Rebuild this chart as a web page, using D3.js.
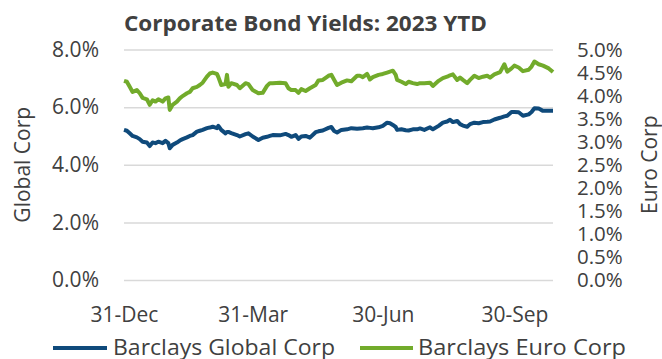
<!DOCTYPE html>
<html>
<head>
<meta charset="utf-8">
<script src="https://cdn.jsdelivr.net/npm/d3@7"></script>
<style>
  body { margin: 0; background: #fff; }
  text { font-family: "Open Sans", "Noto Sans", sans-serif; fill: #404040; }
</style>
</head>
<body>
<svg id="chart"></svg>
<script>
const width = 662;
const height = 359;

// days since 31-Dec-2022
const dayOffsets = [0,2,4,6,9,11,13,16,18,20,22,24,27,29,31,32,34,37,39,41,44,46,48,51,53,55,58,60,62,65,66,68,71,72,73,75,79,81,85,87,90,94,97,100,102,104,109,113,115,117,120,122,124,127,130,134,136,139,143,145,147,149,152,156,159,163,165,167,170,172,174,178,181,184,186,188,190,191,194,197,199,202,205,207,210,214,216,220,223,226,228,230,233,235,237,240,242,245,248,251,254,256,259,263,266,268,271,273,276,279,283,285,287,290,293,297,300];

const globalCorp = [5.21,5.18,5.09,5.00,4.95,4.89,4.80,4.77,4.65,4.77,4.75,4.80,4.75,4.83,4.75,4.57,4.69,4.77,4.84,4.89,4.95,5.00,5.03,5.15,5.18,5.21,5.27,5.29,5.32,5.27,5.35,5.21,5.09,5.14,5.14,5.10,5.03,4.98,5.06,5.09,4.98,4.86,4.94,4.97,5.00,5.03,5.02,5.07,5.03,4.97,5.03,4.90,4.98,5.00,4.94,5.13,5.16,5.19,5.28,5.31,5.17,5.12,5.21,5.23,5.27,5.25,5.26,5.27,5.29,5.28,5.27,5.30,5.35,5.46,5.44,5.38,5.31,5.21,5.23,5.20,5.19,5.23,5.23,5.26,5.21,5.30,5.23,5.35,5.46,5.50,5.56,5.48,5.52,5.41,5.36,5.32,5.41,5.46,5.44,5.48,5.49,5.50,5.57,5.63,5.68,5.70,5.83,5.83,5.82,5.70,5.75,5.83,5.96,5.95,5.87,5.87,5.87];

const euroCorp = [4.32,4.30,4.19,4.08,4.12,4.05,3.95,3.92,3.80,3.90,3.87,3.92,3.87,3.94,3.96,3.69,3.80,3.87,3.94,3.99,4.05,4.08,4.16,4.19,4.23,4.28,4.41,4.48,4.50,4.47,4.40,4.23,4.25,4.45,4.19,4.27,4.23,4.16,4.27,4.25,4.12,4.05,4.06,4.21,4.27,4.27,4.28,4.27,4.16,4.12,4.12,4.06,4.14,4.10,4.16,4.23,4.33,4.34,4.43,4.45,4.34,4.23,4.28,4.33,4.31,4.43,4.43,4.40,4.47,4.35,4.40,4.45,4.47,4.50,4.52,4.54,4.45,4.34,4.30,4.25,4.30,4.27,4.25,4.27,4.27,4.28,4.21,4.32,4.38,4.41,4.44,4.46,4.34,4.39,4.34,4.27,4.34,4.43,4.38,4.41,4.43,4.39,4.46,4.51,4.68,4.52,4.59,4.65,4.61,4.53,4.56,4.63,4.74,4.68,4.65,4.59,4.51];

const leftTicks = [0, 2, 4, 6, 8];
const rightTicks = [0, 0.5, 1, 1.5, 2, 2.5, 3, 3.5, 4, 4.5, 5];
const xTickDates = ["2022-12-31", "2023-03-31", "2023-06-30", "2023-09-30"];
const seriesNames = ["Barclays Global Corp", "Barclays Euro Corp"];
const colors = ["#0f4a7b", "#72ab2b"];

const start = new Date(2022, 11, 31);
const dates = dayOffsets.map(d => d3.timeDay.offset(start, d));

const plot = { left: 124, right: 553, top: 49.5, bottom: 280 };

const svg = d3.select("#chart")
  .attr("width", width)
  .attr("height", height);

const xScale = d3.scaleTime()
  .domain([start, d3.timeDay.offset(start, 300)])
  .range([plot.left, plot.right]);

const yLeft = d3.scaleLinear().domain([0, 8]).range([plot.bottom, plot.top]);
const yRight = d3.scaleLinear().domain([0, 5]).range([plot.bottom, plot.top]);

// left axis + gridlines
const leftAxis = svg.append("g")
  .attr("transform", `translate(${plot.left},0)`)
  .call(d3.axisLeft(yLeft)
    .tickValues(leftTicks)
    .tickSize(-(plot.right - plot.left))
    .tickPadding(25)
    .tickFormat(d => d.toFixed(1) + "%"));
leftAxis.select(".domain").remove();
leftAxis.selectAll("line").attr("stroke", "#d9d9d9").attr("stroke-width", 1.5);
leftAxis.selectAll("text").style("font-size", "21px").attr("fill", "#404040");

// right axis
const rightAxis = svg.append("g")
  .attr("transform", `translate(${plot.right},0)`)
  .call(d3.axisRight(yRight)
    .tickValues(rightTicks)
    .tickSize(0)
    .tickPadding(24)
    .tickFormat(d => d.toFixed(1) + "%"));
rightAxis.select(".domain").remove();
rightAxis.selectAll("text").style("font-size", "20.5px").attr("fill", "#404040");

// x axis
const xAxis = svg.append("g")
  .attr("transform", `translate(0,${plot.bottom})`)
  .call(d3.axisBottom(xScale)
    .tickValues(xTickDates.map(s => d3.timeParse("%Y-%m-%d")(s)))
    .tickSize(0)
    .tickPadding(27)
    .tickFormat(d3.timeFormat("%-d-%b")));
xAxis.select(".domain").remove();
xAxis.selectAll("text").style("font-size", "21px").attr("fill", "#404040");

// lines
const lineLeft = d3.line()
  .x((d, i) => xScale(dates[i]))
  .y(d => yLeft(d));
const lineRight = d3.line()
  .x((d, i) => xScale(dates[i]))
  .y(d => yRight(d));

svg.append("path")
  .datum(globalCorp)
  .attr("fill", "none")
  .attr("stroke", colors[0])
  .attr("stroke-width", 4)
  .attr("stroke-linejoin", "round")
  .attr("d", lineLeft);

svg.append("path")
  .datum(euroCorp)
  .attr("fill", "none")
  .attr("stroke", colors[1])
  .attr("stroke-width", 4)
  .attr("stroke-linejoin", "round")
  .attr("d", lineRight);

// title
svg.append("text")
  .attr("x", 305.5)
  .attr("y", 31)
  .attr("text-anchor", "middle")
  .attr("textLength", 363)
  .attr("lengthAdjust", "spacingAndGlyphs")
  .style("font-size", "21px")
  .style("font-weight", "bold")
  .text("Corporate Bond Yields: 2023 YTD");

// axis titles
svg.append("text")
  .attr("transform", `translate(30,${(plot.top + plot.bottom) / 2}) rotate(-90)`)
  .attr("text-anchor", "middle")
  .style("font-size", "21px")
  .text("Global Corp");

svg.append("text")
  .attr("transform", `translate(657,${(plot.top + plot.bottom) / 2}) rotate(-90)`)
  .attr("text-anchor", "middle")
  .style("font-size", "21px")
  .text("Euro Corp");

// legend
const legendItems = [
  { x1: 53, x2: 107, tx: 113, len: 222 },
  { x1: 360, x2: 413, tx: 418, len: 208 }
];
const legend = svg.append("g");
legendItems.forEach((it, i) => {
  legend.append("line")
    .attr("x1", it.x1).attr("x2", it.x2)
    .attr("y1", 348).attr("y2", 348)
    .attr("stroke", colors[i])
    .attr("stroke-width", 4);
  legend.append("text")
    .attr("x", it.tx)
    .attr("y", 354.5)
    .attr("textLength", it.len)
    .attr("lengthAdjust", "spacingAndGlyphs")
    .style("font-size", "21px")
    .text(seriesNames[i]);
});
</script>
</body>
</html>
